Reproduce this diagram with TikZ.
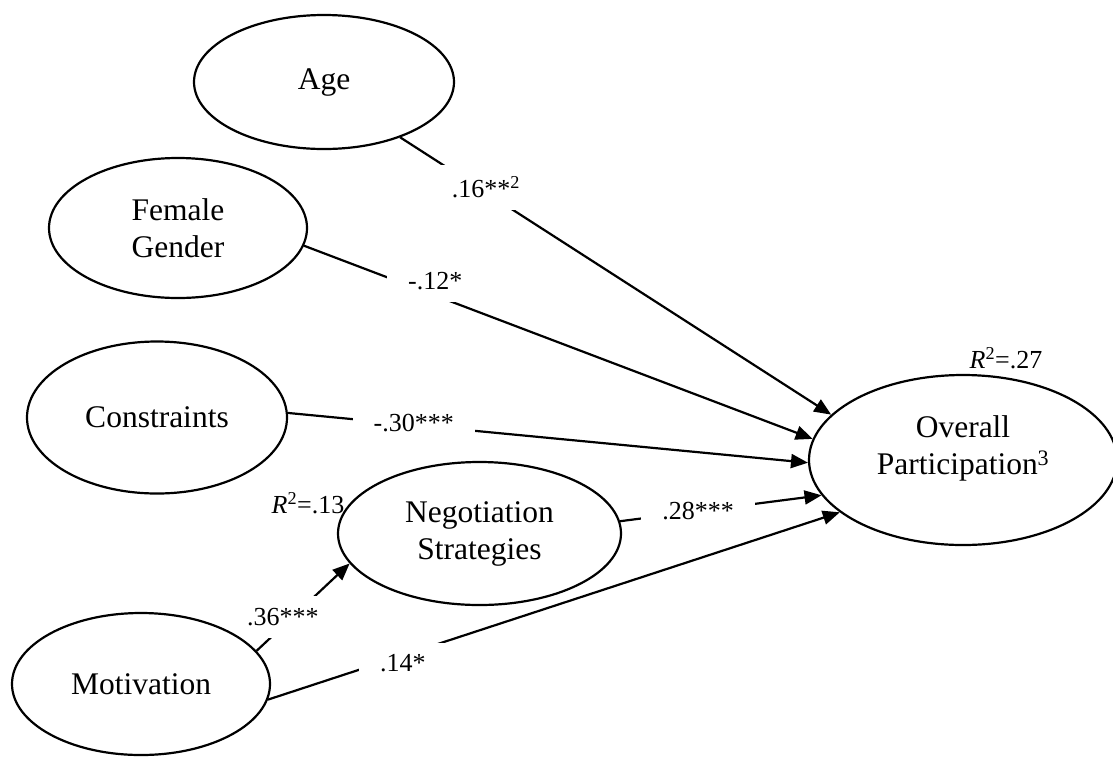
\documentclass[tikz,border=0pt]{standalone}
\usepackage{fontspec}
\setmainfont{Liberation Serif}
\usetikzlibrary{shapes.geometric,arrows.meta,backgrounds}

\begin{document}
\begin{tikzpicture}[x=1pt,y=-1pt,
  var/.style={draw, ellipse, line width=2.2pt, inner sep=0pt, align=center,
    font=\fontsize{31.5}{37}\selectfont},
  conn/.style={line width=2.2pt, -{Triangle[length=17pt,width=14pt]}},
  coef/.style={fill=white, inner xsep=21pt, inner ysep=12pt,
    font=\fontsize{26}{30}\selectfont},
  rsq/.style={inner sep=0pt, font=\fontsize{26}{30}\selectfont}]
\useasboundingbox (0,0) rectangle (1113,756);

% latent variables
\node[var, minimum width=260pt, minimum height=134pt] (age) at (324,82) {Age};
\node[var, minimum width=258pt, minimum height=140pt] (female) at (178,228) {Female\\Gender};
\node[var, minimum width=260pt, minimum height=152pt] (cons) at (157,417.5) {Constraints};
\node[var, minimum width=283pt, minimum height=143pt] (neg) at (479.5,533.5) {Negotiation\\Strategies};
\node[var, minimum width=258pt, minimum height=142pt] (mot) at (141,684) {Motivation};
\node[var, minimum width=308pt, minimum height=170pt] (over) at (963,460)
  {Overall\\Participation\textsuperscript{3}\rule[-29pt]{0pt}{0pt}};

% explained variance
\node[rsq] (r2over) at (1006,358) {\textit{R}\textsuperscript{2}=.27};
\node[rsq] (r2neg) at (308,503) {\textit{R}\textsuperscript{2}=.13};

% paths with standardized coefficients
\begin{pgfonlayer}{background}
\draw[conn] (age.-36.6) -- node[coef, pos=0.199, yshift=5pt] (cage) {.16**\textsuperscript{2}} (over.161.3);
\draw[conn] (female.-8.3) -- node[coef, pos=0.258, yshift=14pt] (cfem) {-.12*} (over.172.5);
\draw[conn] (cons.2) -- node[coef, pos=0.242, yshift=2pt] (ccons) {-.30***} (over.181.8);
\draw[conn] (neg.5.9) -- node[coef, pos=0.387] (cneg) {.28***} (over.194);
\draw[conn] (mot.-7.1) -- node[coef, pos=0.236, yshift=-8pt] (cmot) {.14*} (over.203.8);
\draw[conn] (mot.16.9) -- node[coef, pos=0.284, yshift=9pt] (cmotneg) {.36***} (neg.193.5);
\end{pgfonlayer}
\end{tikzpicture}
\end{document}
